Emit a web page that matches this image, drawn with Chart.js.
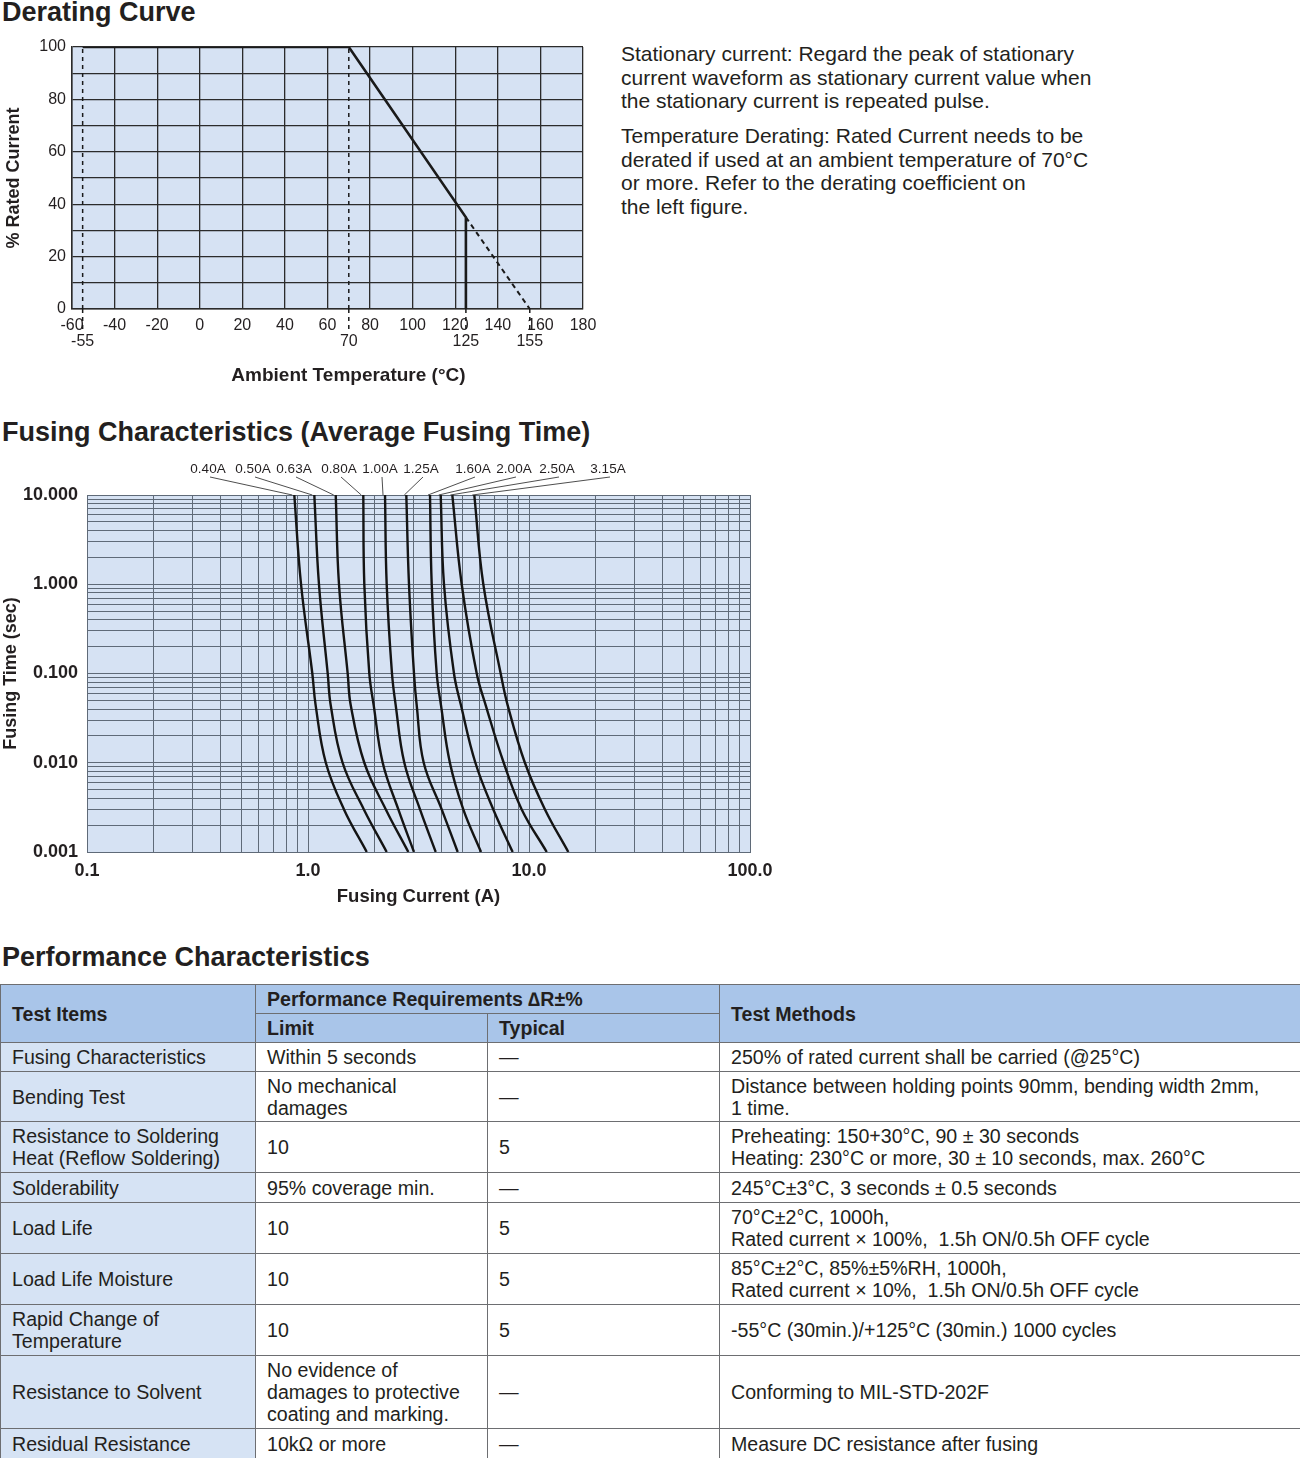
<!DOCTYPE html>
<html>
<head>
<meta charset="utf-8">
<script src="https://cdn.jsdelivr.net/npm/chart.js@4.4.1/dist/chart.umd.min.js"></script>
<style>
  body { margin: 0; background: #fff; font-family: "Liberation Sans", Arial, sans-serif; color: #231f20; }
  #page { position: relative; width: 1300px; height: 1458px; overflow: hidden; }
  .h { position: absolute; left: 2px; margin: 0; font-size: 27px; line-height: 27px; font-weight: bold; white-space: nowrap; }
  #notes { position: absolute; left: 621px; top: 42px; width: 600px; font-size: 21px; line-height: 23.6px; }
  #notes p { margin: 0 0 11.5px 0; }
  canvas { position: absolute; left: 0; }
  table { position: absolute; left: 0; top: 984px; width: 1300px; border-collapse: collapse; table-layout: fixed;
          font-size: 19.6px; line-height: 22px; }
  td, th { border: 1px solid #6d6e71; padding: 0 11px; text-align: left; vertical-align: middle; font-weight: normal; }
  th { background: #a9c5e9; font-weight: bold; }
  td.item { background: #d6e3f4; }
</style>
</head>
<body>
<div id="page">
  <h2 class="h" style="top:-1px">Derating Curve</h2>
  <canvas id="derating" width="610" height="370" style="top:30px"></canvas>
  <div id="notes">
    <p>Stationary current: Regard the peak of stationary<br>current waveform as stationary current value when<br>the stationary current is repeated pulse.</p>
    <p>Temperature Derating: Rated Current needs to be<br>derated if used at an ambient temperature of 70°C<br>or more. Refer to the derating coefficient on<br>the left figure.</p>
  </div>

  <h2 class="h" style="top:419px">Fusing Characteristics (Average Fusing Time)</h2>
  <canvas id="fusing" width="800" height="470" style="top:455px"></canvas>

  <h2 class="h" style="top:944px">Performance Characteristics</h2>
  <table>
    <colgroup><col style="width:255px"><col style="width:232px"><col style="width:232px"><col style="width:581px"></colgroup>
    <tr style="height:29px"><th rowspan="2">Test Items</th><th colspan="2">Performance Requirements ∆R±%</th><th rowspan="2">Test Methods</th></tr>
    <tr style="height:29px"><th>Limit</th><th>Typical</th></tr>
    <tr style="height:29px"><td class="item">Fusing Characteristics</td><td>Within 5 seconds</td><td>—</td><td>250% of rated current shall be carried (@25°C)</td></tr>
    <tr style="height:50px"><td class="item">Bending Test</td><td>No mechanical<br>damages</td><td>—</td><td>Distance between holding points 90mm, bending width 2mm,<br>1 time.</td></tr>
    <tr style="height:51px"><td class="item">Resistance to Soldering<br>Heat (Reflow Soldering)</td><td>10</td><td>5</td><td>Preheating: 150+30°C, 90 ± 30 seconds<br>Heating: 230°C or more, 30 ± 10 seconds, max. 260°C</td></tr>
    <tr style="height:30px"><td class="item">Solderability</td><td>95% coverage min.</td><td>—</td><td>245°C±3°C, 3 seconds ± 0.5 seconds</td></tr>
    <tr style="height:51px"><td class="item">Load Life</td><td>10</td><td>5</td><td>70°C±2°C, 1000h,<br>Rated current × 100%,&nbsp; 1.5h ON/0.5h OFF cycle</td></tr>
    <tr style="height:51px"><td class="item">Load Life Moisture</td><td>10</td><td>5</td><td>85°C±2°C, 85%±5%RH, 1000h,<br>Rated current × 10%,&nbsp; 1.5h ON/0.5h OFF cycle</td></tr>
    <tr style="height:51px"><td class="item">Rapid Change of<br>Temperature</td><td>10</td><td>5</td><td>-55°C (30min.)/+125°C (30min.) 1000 cycles</td></tr>
    <tr style="height:73px"><td class="item">Resistance to Solvent</td><td>No evidence of<br>damages to protective<br>coating and marking.</td><td>—</td><td>Conforming to MIL-STD-202F</td></tr>
    <tr style="height:30px"><td class="item">Residual Resistance</td><td>10kΩ or more</td><td>—</td><td>Measure DC resistance after fusing</td></tr>
  </table>
</div>

<script>
// derating curve
const ratedTemp = [-55, 70, 125, 125];
const ratedPct = [100, 100, 35, 0];
const extrapTemp = [125, 155];
const extrapPct = [35, 0];
const guideTemps = [-55, 70];
const extraTicks = [-55, 70, 125, 155];
const derateYLabels = [0, 20, 40, 60, 80, 100];

// fusing characteristics, time in sec, current in A
const ratings = ['0.40A', '0.50A', '0.63A', '0.80A', '1.00A', '1.25A', '1.60A', '2.00A', '2.50A', '3.15A'];
const fusingTime = [10, 1, 0.1, 0.044, 0.01, 0.003, 0.001];
const i040 = [0.867, 0.930, 1.046, 1.083, 1.204, 1.455, 1.844];
const i050 = [1.068, 1.121, 1.228, 1.267, 1.434, 1.790, 2.270];
const i063 = [1.335, 1.381, 1.512, 1.561, 1.798, 2.250, 2.844];
const i080 = [1.779, 1.798, 1.894, 1.983, 2.178, 2.563, 3.017];
const i100 = [2.231, 2.270, 2.399, 2.494, 2.728, 3.212, 3.783];
const i125 = [2.785, 2.864, 3.017, 3.104, 3.339, 4.027, 4.757];
const i160 = [3.565, 3.629, 3.823, 3.998, 4.386, 5.043, 6.066];
const i200 = [3.985, 4.124, 4.577, 4.923, 5.720, 6.894, 8.436];
const i250 = [4.498, 4.960, 5.800, 6.371, 7.683, 9.268, 12.03];
const i315 = [5.655, 6.213, 7.446, 8.010, 9.581, 11.81, 15.06];
const fusingCurves = [i040, i050, i063, i080, i100, i125, i160, i200, i250, i315];
const xTickLabels = ['0.1', '1.0', '10.0', '100.0'];
const yTickLabels = ['0.001', '0.010', '0.100', '1.000', '10.000'];

Chart.defaults.font.family = '"Liberation Sans", Arial, sans-serif';
Chart.defaults.color = '#231f20';

const plotBg = color => ({
  id: 'plotBg',
  beforeDraw(chart) {
    const a = chart.chartArea, ctx = chart.ctx;
    ctx.save();
    ctx.fillStyle = color;
    ctx.fillRect(a.left, a.top, a.right - a.left, a.bottom - a.top);
    ctx.restore();
  }
});

const toPoints = (xs, ys) => xs.map((x, i) => ({ x: x, y: ys[i] }));

// second row of temperature marks under the axis, plus the axis title
const extraTickPlugin = {
  id: 'extraTicks',
  afterDraw(chart) {
    const ctx = chart.ctx, xs = chart.scales.x, a = chart.chartArea, b = a.bottom;
    ctx.save();
    ctx.strokeStyle = '#1a1a1a';
    ctx.lineWidth = 1.5;
    ctx.setLineDash([4, 4]);
    ctx.font = '16px "Liberation Sans", Arial, sans-serif';
    ctx.fillStyle = '#231f20';
    ctx.textAlign = 'center';
    ctx.textBaseline = 'middle';
    extraTicks.forEach(t => {
      const px = xs.getPixelForValue(t);
      ctx.beginPath();
      ctx.moveTo(px, b);
      ctx.lineTo(px, b + 24);
      ctx.stroke();
      ctx.fillText(String(t), px, b + 33);
    });
    ctx.font = 'bold 19px "Liberation Sans", Arial, sans-serif';
    ctx.fillText('Ambient Temperature (°C)', a.left + (a.right - a.left) * 0.541, b + 67);
    ctx.restore();
  }
};

new Chart(document.getElementById('derating'), {
  type: 'scatter',
  data: {
    datasets: [
      { data: toPoints(ratedTemp, ratedPct), showLine: true, borderColor: '#1a1a1a', borderWidth: 2.6, pointRadius: 0 },
      { data: toPoints(extrapTemp, extrapPct), showLine: true, borderColor: '#1a1a1a', borderWidth: 2, borderDash: [5, 4], pointRadius: 0 }
    ].concat(guideTemps.map(t => ({
      data: [{ x: t, y: 0 }, { x: t, y: 100 }], showLine: true, borderColor: '#1a1a1a', borderWidth: 1.5, borderDash: [4, 4], pointRadius: 0
    })))
  },
  options: {
    responsive: false,
    animation: false,
    layout: { padding: { top: 17, right: 27, left: 0, bottom: 0 } },
    plugins: { legend: { display: false }, tooltip: { enabled: false } },
    scales: {
      x: {
        type: 'linear', min: -60, max: 180,
        ticks: { stepSize: 20, padding: 7, font: { size: 16 }, color: '#231f20' },
        grid: { color: '#2b2b2b', lineWidth: 1.3, drawTicks: false },
        border: { color: '#2b2b2b', width: 1.5 },
        afterFit(s) { s.height = 91; }
      },
      y: {
        min: 0, max: 100,
        ticks: { stepSize: 10, padding: 6, font: { size: 16 }, color: '#231f20',
                 callback: v => derateYLabels.includes(v) ? String(v) : '' },
        grid: { color: '#2b2b2b', lineWidth: 1.3, drawTicks: false },
        border: { color: '#2b2b2b', width: 1.5 },
        title: { display: true, text: '% Rated Current', font: { size: 18, weight: 'bold' }, padding: { top: 3 } },
        afterFit(s) { s.width = 72; }
      }
    }
  },
  plugins: [plotBg('#d6e2f3'), extraTickPlugin]
});

// log ticks 1..9 per decade
function logTicks(lo, hi) {
  const out = [];
  for (let e = Math.round(Math.log10(lo)); e < Math.round(Math.log10(hi)); e++) {
    for (let s = 1; s <= 9; s++) out.push({ value: Number((s * Math.pow(10, e)).toPrecision(6)) });
  }
  out.push({ value: hi });
  return out;
}
const isDecade = v => Math.abs(Math.log10(v) - Math.round(Math.log10(v))) < 1e-9;

// current rating labels above the plot with leader lines
const ratingLabelX = [208, 253, 294, 339, 380, 421, 473, 514, 557, 608];
const ratingLabelPlugin = {
  id: 'ratingLabels',
  afterDraw(chart) {
    const ctx = chart.ctx, xs = chart.scales.x, ys = chart.scales.y;
    ctx.save();
    ctx.font = '13.5px "Liberation Sans", Arial, sans-serif';
    ctx.fillStyle = '#231f20';
    ctx.textAlign = 'center';
    ctx.textBaseline = 'middle';
    ctx.strokeStyle = '#3a3a3a';
    ctx.lineWidth = 0.9;
    ratings.forEach((r, i) => {
      const lx = ratingLabelX[i];
      ctx.fillText(r, lx, 14);
      ctx.beginPath();
      ctx.moveTo(lx + 2, 22);
      ctx.lineTo(xs.getPixelForValue(fusingCurves[i][0]) - 2, ys.getPixelForValue(fusingTime[0]));
      ctx.stroke();
    });
    ctx.restore();
  }
};

new Chart(document.getElementById('fusing'), {
  type: 'line',
  data: {
    datasets: fusingCurves.map((c, i) => ({
      label: ratings[i],
      data: toPoints(c, fusingTime),
      borderColor: '#141414',
      borderWidth: 2.4,
      pointRadius: 0,
      fill: false,
      tension: 0.4
    }))
  },
  options: {
    responsive: false,
    animation: false,
    layout: { padding: { top: 40, right: 50, left: 0, bottom: 0 } },
    plugins: { legend: { display: false }, tooltip: { enabled: false } },
    scales: {
      x: {
        type: 'logarithmic', min: 0.1, max: 100,
        afterBuildTicks(s) { s.ticks = logTicks(0.1, 100); },
        ticks: { autoSkip: false, maxRotation: 0, padding: 8, font: { size: 18, weight: 'bold' }, color: '#231f20',
                 callback: v => isDecade(v) ? xTickLabels[Math.round(Math.log10(v)) + 1] : '' },
        grid: { color: '#5f6a78', lineWidth: 1, drawTicks: false },
        border: { color: '#5f6a78', width: 1 },
        title: { display: true, text: 'Fusing Current (A)', font: { size: 18.5, weight: 'bold' }, padding: { bottom: 17 } },
        afterFit(s) { s.height = 73; }
      },
      y: {
        type: 'logarithmic', min: 0.001, max: 10,
        afterBuildTicks(s) { s.ticks = logTicks(0.001, 10); },
        ticks: { autoSkip: false, padding: 9, font: { size: 18, weight: 'bold' }, color: '#231f20',
                 callback: v => isDecade(v) ? yTickLabels[Math.round(Math.log10(v)) + 3] : '' },
        grid: { color: '#5f6a78', lineWidth: 1, drawTicks: false },
        border: { color: '#5f6a78', width: 1 },
        title: { display: true, text: 'Fusing Time (sec)', font: { size: 18, weight: 'bold' }, padding: { top: 0 } },
        afterFit(s) { s.width = 87; }
      }
    }
  },
  plugins: [plotBg('#d6e2f3'), ratingLabelPlugin]
});
</script>
</body>
</html>
